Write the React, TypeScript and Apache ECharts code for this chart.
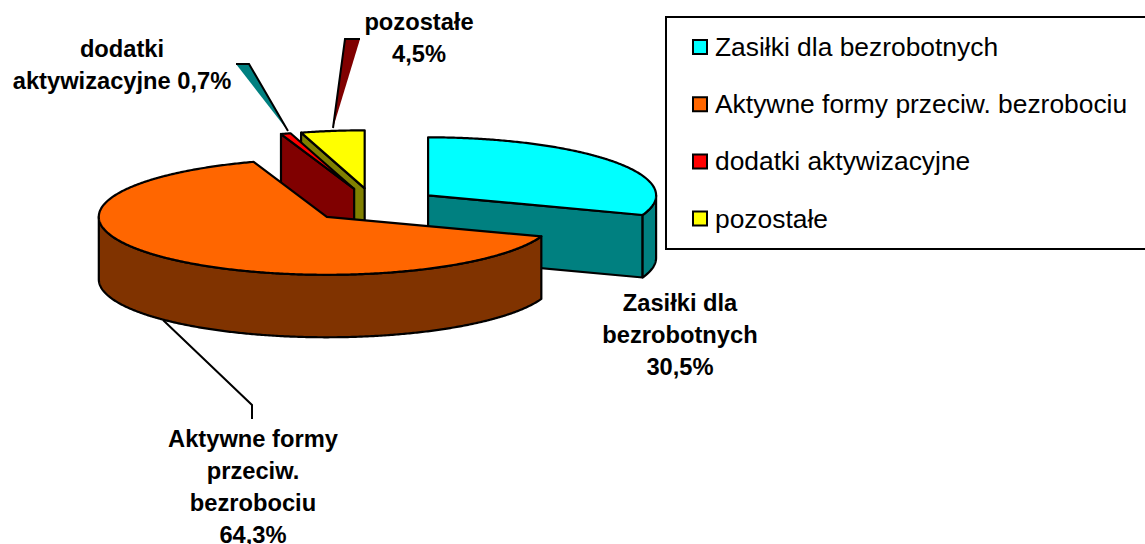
import React, { useEffect, useRef } from "react";
import * as echarts from "echarts";

const categories = ["Zasiłki dla bezrobotnych", "Aktywne formy przeciw. bezrobociu", "dodatki aktywizacyjne", "pozostałe"];
const values = [30.5, 64.3, 0.7, 4.5];
const topColors = ["#00FFFF", "#FF6600", "#FF0000", "#FFFF00"];
const wallColors = ["#008080", "#803300", "#800000", "#808000"];
const drawOrder = [3, 2, 0, 1];
const labelLines = [
  ["Zasiłki dla", "bezrobotnych"],
  ["Aktywne formy", "przeciw.", "bezrobociu"],
  ["dodatki", "aktywizacyjne"],
  ["pozostałe"],
];

const CX = 374, CY = 205, RX = 228, RY = 58, DEPTH = 62.5, EXPLODE = 0.29, START = 270;
const FONT = "'Liberation Sans', Arial, sans-serif";
const STROKE = { stroke: "#000", lineWidth: 2.2, lineJoin: "round" as const };
const total = values.reduce((a, b) => a + b, 0);
const rad = (d: number) => (d * Math.PI) / 180;
const pct = (v: number) => v.toFixed(1).replace(".", ",") + "%";

function spans() {
  let a = START;
  return values.map((v) => {
    const b = a + (v / total) * 360;
    const s = [a, b];
    a = b;
    return s;
  });
}

function arc(c: number[], a: number, b: number, dy = 0) {
  const pts: number[][] = [];
  const n = Math.max(2, Math.ceil(Math.abs(b - a) * 2));
  for (let i = 0; i <= n; i++) {
    const t = rad(a + ((b - a) * i) / n);
    pts.push([c[0] + RX * Math.cos(t), c[1] + RY * Math.sin(t) + dy]);
  }
  return pts;
}

function sliceShapes(idx: number) {
  const [a, b] = spans()[idx];
  const mid = rad((a + b) / 2);
  const c = [CX + EXPLODE * RX * Math.cos(mid), CY + EXPLODE * RY * Math.sin(mid)];
  const top = topColors[idx], wall = wallColors[idx];
  const kids: any[] = [];
  const poly = (points: number[][], fill: string) =>
    kids.push({ type: "polygon", shape: { points }, style: { fill, ...STROKE } });
  const cut = (t: number) => {
    const p = [c[0] + RX * Math.cos(rad(t)), c[1] + RY * Math.sin(rad(t))];
    poly([c, p, [p[0], p[1] + DEPTH], [c[0], c[1] + DEPTH]], wall);
  };
  if (Math.sin(rad(a - 90)) > 0.05) cut(a);
  if (Math.sin(rad(b + 90)) > 0.05) cut(b);
  for (const off of [0, 360]) {
    const lo = Math.max(a, off), hi = Math.min(b, off + 180);
    if (hi > lo) {
      poly([...arc(c, lo, hi), ...arc(c, hi, lo, DEPTH)], wall);
    }
  }
  poly([c, ...arc(c, a, b)], top);
  return { type: "group", children: kids };
}

const labelText = (x: number, y: number, lines: string[]) => ({
  type: "text",
  x,
  y,
  silent: true,
  style: { text: lines.join("\n"), font: `bold 23.7px ${FONT}`, fill: "#000", align: "center", verticalAlign: "top", lineHeight: 32 },
});

export default function App() {
  const ref = useRef<HTMLDivElement>(null);
  useEffect(() => {
    document.body.style.margin = "0";
    const chart = echarts.init(ref.current!, null, { renderer: "svg" });
    chart.setOption({
      animation: false,
      backgroundColor: "#fff",
      legend: {
        left: 687,
        top: 29,
        orient: "vertical",
        itemWidth: 14,
        itemHeight: 14,
        itemGap: 31.2,
        selectedMode: false,
        textStyle: { fontFamily: FONT, fontSize: 26.4, color: "#000", padding: [0, 0, 0, 3] },
        data: categories.map((name, i) => ({
          name,
          icon: "rect",
          itemStyle: { color: topColors[i], borderColor: "#000", borderWidth: 2 },
        })),
      },
      series: drawOrder.map((idx, z) => ({
        type: "custom",
        name: categories[idx],
        coordinateSystem: "none",
        silent: true,
        z: z + 2,
        data: [values[idx]],
        renderItem: () => sliceShapes(idx),
      })),
      graphic: [
        { type: "rect", z: 0, shape: { x: 666, y: 17, width: 500, height: 232 }, style: { fill: "#fff", stroke: "#000", lineWidth: 2 } },
        { type: "polygon", z: 20, shape: { points: [[236, 64], [249, 64], [288, 131]] }, style: { fill: "#008080" } },
        { type: "polyline", z: 20, shape: { points: [[236, 64], [249, 64], [288, 131]] }, style: { stroke: "#000", lineWidth: 2, fill: "none" } },
        { type: "polygon", z: 20, shape: { points: [[345, 39], [360, 39], [333, 128]] }, style: { fill: "#800000" } },
        { type: "polyline", z: 20, shape: { points: [[360, 39], [345, 39], [333, 128]] }, style: { stroke: "#000", lineWidth: 2, fill: "none" } },
        { type: "polyline", z: 1, shape: { points: [[163, 320], [252, 405], [252, 419]] }, style: { stroke: "#000", lineWidth: 2, fill: "none" } },
        labelText(680, 287, [...labelLines[0], pct(values[0])]),
        labelText(253, 423, [...labelLines[1], pct(values[1])]),
        labelText(122, 33, [labelLines[2][0], `${labelLines[2][1]} ${pct(values[2])}`]),
        labelText(419, 6, [...labelLines[3], pct(values[3])]),
      ],
    });
    return () => chart.dispose();
  }, []);
  return <div ref={ref} style={{ position: "fixed", left: 0, top: 0, width: 1145, height: 544 }} />;
}
